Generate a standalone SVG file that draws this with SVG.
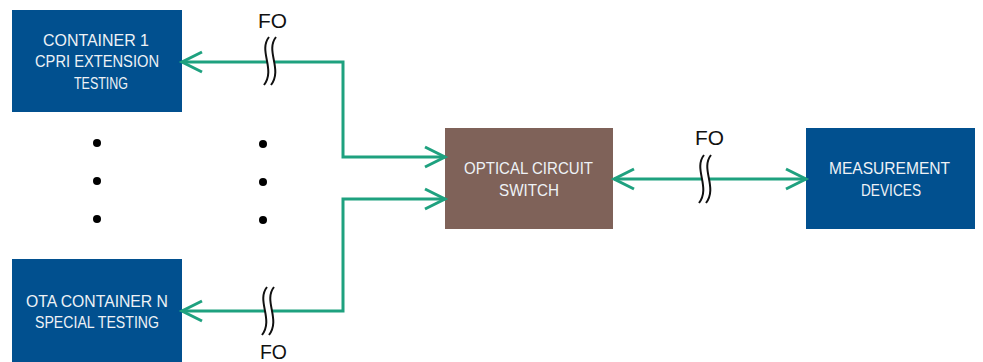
<svg xmlns="http://www.w3.org/2000/svg" width="983" height="362" viewBox="0 0 983 362">
<style>
.blue{fill:#01508f}
.brown{fill:#7f6259}
.lbl{font-family:"Liberation Sans",Arial,sans-serif;font-size:16.5px;fill:#eef2f6;text-anchor:middle}
.fo{font-family:"Liberation Sans",Arial,sans-serif;font-size:20px;fill:#111;text-anchor:middle}
.conn{fill:none;stroke:#1ea17f;stroke-width:3}
.brkl{fill:none;stroke:#111;stroke-width:2}
</style>
<defs>
<marker id="arr" markerUnits="userSpaceOnUse" markerWidth="30" markerHeight="30" viewBox="-24 -15 30 30" refX="0" refY="0" orient="auto-start-reverse">
<path d="M -20 -10 L 0 0 L -20 10" fill="none" stroke="#1ea17f" stroke-width="3"/>
</marker>
<g id="brk">
<path d="M 1 -24 C -10 -10 8 8 -4 24 L 3 24 C 15 8 -3 -10 8 -24 Z" fill="#fff"/>
<path class="brkl" d="M 1 -24 C -10 -10 8 8 -4 24"/>
<path class="brkl" d="M 8 -24 C -3 -10 15 8 3 24"/>
</g>
</defs>
<g id="container1">
<rect class="blue" x="12" y="10" width="170" height="102"/>
<text class="lbl" x="96" y="46" textLength="106" lengthAdjust="spacingAndGlyphs">CONTAINER 1</text>
<text class="lbl" x="97" y="67" textLength="124" lengthAdjust="spacingAndGlyphs">CPRI EXTENSION</text>
<text class="lbl" x="101" y="89" textLength="54" lengthAdjust="spacingAndGlyphs">TESTING</text>
</g>
<g id="containerN">
<rect class="blue" x="12" y="259" width="170" height="103"/>
<text class="lbl" x="97" y="307" textLength="142" lengthAdjust="spacingAndGlyphs">OTA CONTAINER N</text>
<text class="lbl" x="97" y="328" textLength="124" lengthAdjust="spacingAndGlyphs">SPECIAL TESTING</text>
</g>
<g id="switch">
<rect class="brown" x="445" y="128" width="168" height="101"/>
<text class="lbl" x="528.5" y="174" textLength="129" lengthAdjust="spacingAndGlyphs">OPTICAL CIRCUIT</text>
<text class="lbl" x="529" y="196" textLength="60" lengthAdjust="spacingAndGlyphs">SWITCH</text>
</g>
<g id="measurement">
<rect class="blue" x="806" y="128" width="169" height="101"/>
<text class="lbl" x="889.5" y="174" textLength="121" lengthAdjust="spacingAndGlyphs">MEASUREMENT</text>
<text class="lbl" x="891" y="196" textLength="60" lengthAdjust="spacingAndGlyphs">DEVICES</text>
</g>
<g id="dots" fill="#000">
<circle cx="97" cy="143" r="4"/>
<circle cx="97" cy="181" r="4"/>
<circle cx="97" cy="219" r="4"/>
<circle cx="263" cy="144" r="4"/>
<circle cx="263" cy="182" r="4"/>
<circle cx="263" cy="220" r="4"/>
</g>
<g id="connectors">
<path class="conn" d="M 182 62 H 343 V 157 H 445" marker-start="url(#arr)" marker-end="url(#arr)"/>
<path class="conn" d="M 182 311 H 343 V 199 H 445" marker-start="url(#arr)" marker-end="url(#arr)"/>
<path class="conn" d="M 614 179 H 806" marker-start="url(#arr)" marker-end="url(#arr)"/>
<use href="#brk" x="268" y="61"/>
<use href="#brk" x="703" y="179"/>
<use href="#brk" x="266" y="311"/>
<text class="fo" x="272.5" y="28" textLength="29" lengthAdjust="spacingAndGlyphs">FO</text>
<text class="fo" x="709.5" y="145" textLength="29" lengthAdjust="spacingAndGlyphs">FO</text>
<text class="fo" x="273.5" y="359" textLength="27" lengthAdjust="spacingAndGlyphs">FO</text>
</g>
</svg>
